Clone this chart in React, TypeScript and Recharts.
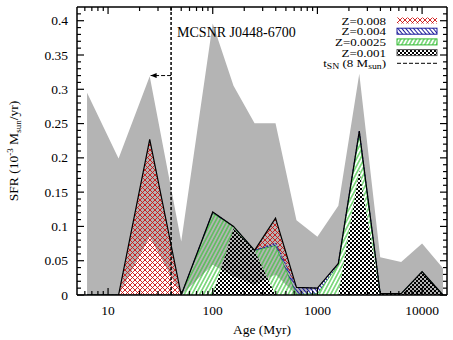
import React from 'react';
import { ComposedChart, Area, XAxis, YAxis, ReferenceLine, Legend } from 'recharts';

const FONT = '"Liberation Serif", "Times New Roman", serif';

// Age bins (Myr)
const ages = [6.3, 12.6, 25, 50, 100, 158, 251, 398, 631, 1000, 1585, 2512, 3981, 6310, 10000, 15849];
// SFR per metallicity (10^-3 Msun/yr)
const sfrZ0008 = [0, 0, 0.227, 0, 0, 0, 0, 0.036, 0, 0, 0, 0, 0, 0, 0, 0];
const sfrZ0004 = [0, 0, 0, 0, 0.002, 0, 0, 0.004, 0.01, 0.008, 0.002, 0.005, 0, 0, 0, 0];
const sfrZ00025 = [0, 0, 0, 0, 0.119, 0.003, 0, 0.072, 0.001, 0.002, 0.044, 0.052, 0, 0, 0, 0];
const sfrZ0001 = [0, 0, 0, 0, 0, 0.097, 0.065, 0, 0, 0, 0, 0.182, 0.002, 0.002, 0.034, 0];
// Uncertainty band of total SFR
const errLow = [0, 0, 0.085, 0, 0.044, 0.027, 0.015, 0.03, 0, 0.01, 0.045, 0.235, 0, 0, 0, 0];
const errHigh = [0.295, 0.199, 0.319, 0.078, 0.396, 0.305, 0.2505, 0.2505, 0.109, 0.085, 0.13, 0.3225, 0.055, 0.048, 0.075, 0.039];

// Ticks
const xMajorTicks = [10, 100, 1000, 10000];
const xTicks = [6, 7, 8, 9, 10, 20, 30, 40, 50, 60, 70, 80, 90, 100, 200, 300, 400, 500, 600, 700, 800, 900, 1000, 2000, 3000, 4000, 5000, 6000, 7000, 8000, 9000, 10000];
const yMajorTicks = [0, 0.05, 0.1, 0.15, 0.2, 0.25, 0.3, 0.35, 0.4];
const yTicks = Array.from({ length: 42 }, (_, i) => i / 100);

const snrAge = 40;
const snrName = 'MCSNR J0448-6700';
const arrowY = 0.32;
const arrowTipAge = 25.5;

const legendItems = [
  { label: 'Z=0.008', fill: 'url(#patZ0008)', border: 'none' },
  { label: 'Z=0.004', fill: 'url(#patZ0004)', border: '#1c1c9c' },
  { label: 'Z=0.0025', fill: 'url(#patZ00025)', border: '#2fb82f' },
  { label: 'Z=0.001', fill: 'url(#patZ0001)', border: '#555' },
];

const data = ages.map((age, i) => ({
  age,
  z0008: sfrZ0008[i],
  z0004: sfrZ0004[i],
  z00025: sfrZ00025[i],
  z0001: sfrZ0001[i],
  band: [errLow[i], errHigh[i]],
}));

const isMajorY = (v: number) => yMajorTicks.some((m) => Math.abs(m - v) < 1e-6);

const YTickLeft = (props: any) => {
  const { x, y, payload } = props;
  const major = isMajorY(payload.value);
  return (
    <g>
      <line x1={x} x2={x + (major ? 7 : 4)} y1={y} y2={y} stroke="#000" strokeWidth={1.2} />
      {major && (
        <text x={x - 9} y={y + 4.5} textAnchor="end" fontFamily={FONT} fontSize={13.5} fill="#000">
          {String(payload.value)}
        </text>
      )}
    </g>
  );
};

const YTickRight = (props: any) => {
  const { x, y, payload } = props;
  const major = isMajorY(payload.value);
  return <line x1={x} x2={x - (major ? 7 : 4)} y1={y} y2={y} stroke="#000" strokeWidth={1.2} />;
};

const XTickBottom = (props: any) => {
  const { x, y, payload } = props;
  const major = xMajorTicks.includes(payload.value);
  return (
    <g>
      <line x1={x} x2={x} y1={y} y2={y - (major ? 7 : 4)} stroke="#000" strokeWidth={1.2} />
      {major && (
        <text x={x} y={y + 19.5} textAnchor="middle" fontFamily={FONT} fontSize={13.5} fill="#000">
          {String(payload.value)}
        </text>
      )}
    </g>
  );
};

const XTickTop = (props: any) => {
  const { x, y, payload } = props;
  const major = xMajorTicks.includes(payload.value);
  return <line x1={x} x2={x} y1={y} y2={y + (major ? 7 : 4)} stroke="#000" strokeWidth={1.2} />;
};

const renderYLabel = (props: any) => {
  const vb = props.viewBox || { x: 17, y: 6, width: 60, height: 289 };
  const x = vb.x + 0.5;
  const cy = vb.y + vb.height / 2;
  return (
    <text transform={`rotate(-90, ${x}, ${cy})`} x={x} y={cy} textAnchor="middle" fontFamily={FONT} fontSize={13.5} fill="#000">
      SFR (10<tspan dy={-5} fontSize={9}>-3</tspan>
      <tspan dy={5}> M</tspan>
      <tspan dy={3} fontSize={9}>sun</tspan>
      <tspan dy={-3}>/yr)</tspan>
    </text>
  );
};

const renderXLabel = (props: any) => {
  const vb = props.viewBox || { x: 77, y: 295, width: 370, height: 45 };
  return (
    <text x={vb.x + vb.width / 2} y={vb.y + 39} textAnchor="middle" fontFamily={FONT} fontSize={13.5} fill="#000">
      Age (Myr)
    </text>
  );
};

const renderSnrLabel = (props: any) => {
  const vb = props.viewBox || { x: 170, y: 7 };
  return (
    <text x={vb.x + 6} y={vb.y + 30} fontFamily={FONT} fontSize={14} fill="#000">
      {snrName}
    </text>
  );
};

const ArrowShape = (p: any) => (
  <line x1={p.x1} y1={p.y1} x2={p.x2} y2={p.y2} stroke="#000" strokeWidth={1} strokeDasharray="4 2" markerEnd="url(#arrowHead)" />
);

const renderLegend = () => {
  const textRight = 386;
  const swX = 397;
  const swW = 40;
  const swH = 6;
  const base0 = 24.5;
  const step = 10.7;
  const fs = 10;
  const sx = 1.3;
  return (
    <svg width={453} height={80} style={{ display: 'block', overflow: 'visible' }}>
      {legendItems.map((it, i) => {
        const b = base0 + i * step;
        return (
          <g key={it.label}>
            <text transform={`translate(${textRight},${b}) scale(${sx},1)`} x={0} y={0} textAnchor="end" fontFamily={FONT} fontSize={fs} fill="#000">
              {it.label}
            </text>
            <rect x={swX} y={b - 7} width={swW} height={swH} fill={it.fill} stroke={it.border} strokeWidth={1} />
          </g>
        );
      })}
      <text transform={`translate(${textRight},${base0 + 4 * step}) scale(${sx},1)`} x={0} y={0} textAnchor="end" fontFamily={FONT} fontSize={fs} fill="#000">
        t<tspan dy={2} fontSize={7.5}>SN</tspan>
        <tspan dy={-2}> (8 M</tspan>
        <tspan dy={2} fontSize={7.5}>sun</tspan>
        <tspan dy={-2}>)</tspan>
      </text>
      <line x1={swX} x2={swX + swW} y1={base0 + 4 * step - 4} y2={base0 + 4 * step - 4} stroke="#000" strokeWidth={1} strokeDasharray="4 2" />
    </svg>
  );
};

export default function App() {
  return (
    <div style={{ position: 'absolute', left: 0, top: 0, width: 453, height: 340, background: '#fff' }}>
      <ComposedChart width={453} height={340} data={data} margin={{ top: 6, right: 5, bottom: 0, left: 17 }}>
        <defs>
          <pattern id="patZ0008" patternUnits="userSpaceOnUse" width={5} height={5}>
            <path d="M0,0 L5,5 M5,0 L0,5" stroke="#cc1111" strokeWidth={0.9} fill="none" />
          </pattern>
          <pattern id="patZ0004" patternUnits="userSpaceOnUse" width={3} height={6} patternTransform="rotate(-40)">
            <line x1={1.5} y1={0} x2={1.5} y2={6} stroke="#1c1c9c" strokeWidth={1} />
          </pattern>
          <pattern id="patZ00025" patternUnits="userSpaceOnUse" width={3.4} height={6} patternTransform="rotate(28)">
            <line x1={1.7} y1={0} x2={1.7} y2={6} stroke="#36c236" strokeWidth={1.1} />
          </pattern>
          <pattern id="patZ0001" patternUnits="userSpaceOnUse" width={4} height={4}>
            <rect x={0} y={0} width={2} height={2} fill="#000" />
            <rect x={2} y={2} width={2} height={2} fill="#000" />
          </pattern>
          <marker id="arrowHead" markerUnits="userSpaceOnUse" markerWidth={7} markerHeight={5} refX={6} refY={2.5} orient="auto">
            <path d="M0,0 L6,2.5 L0,5 z" fill="#000" />
          </marker>
        </defs>
        <XAxis
          dataKey="age"
          type="number"
          scale="log"
          domain={[5.05, 17300]}
          allowDataOverflow
          ticks={xTicks}
          interval={0}
          tick={XTickBottom}
          tickLine={false}
          tickSize={0}
          tickMargin={0}
          height={45}
          axisLine={{ stroke: '#000', strokeWidth: 1.5 }}
          label={renderXLabel}
        />
        <XAxis
          xAxisId="top"
          orientation="top"
          dataKey="age"
          type="number"
          scale="log"
          domain={[5.05, 17300]}
          allowDataOverflow
          ticks={xTicks}
          interval={0}
          tick={XTickTop}
          tickLine={false}
          tickSize={0}
          tickMargin={0}
          height={1}
          axisLine={{ stroke: '#000', strokeWidth: 1.5 }}
        />
        <YAxis
          type="number"
          domain={[0, 0.42]}
          allowDataOverflow
          ticks={yTicks}
          interval={0}
          tick={YTickLeft}
          tickLine={false}
          tickSize={0}
          tickMargin={0}
          width={60}
          axisLine={{ stroke: '#000', strokeWidth: 1.5 }}
          label={renderYLabel}
        />
        <YAxis
          yAxisId="right"
          orientation="right"
          type="number"
          domain={[0, 0.42]}
          allowDataOverflow
          ticks={yTicks}
          interval={0}
          tick={YTickRight}
          tickLine={false}
          tickSize={0}
          tickMargin={0}
          width={1}
          axisLine={{ stroke: '#000', strokeWidth: 1.5 }}
        />
        <Area dataKey="band" type="linear" fill="#b4b4b4" fillOpacity={1} stroke="none" isAnimationActive={false} legendType="none" />
        <Area dataKey="z0001" name="Z=0.001" stackId="s" type="linear" fill="url(#patZ0001)" fillOpacity={1} stroke="none" isAnimationActive={false} />
        <Area dataKey="z00025" name="Z=0.0025" stackId="s" type="linear" fill="url(#patZ00025)" fillOpacity={1} stroke="#2fb82f" strokeWidth={0.8} isAnimationActive={false} />
        <Area dataKey="z0004" name="Z=0.004" stackId="s" type="linear" fill="url(#patZ0004)" fillOpacity={1} stroke="#1c1c9c" strokeWidth={1} strokeDasharray="2 1.5" isAnimationActive={false} />
        <Area dataKey="z0008" name="Z=0.008" stackId="s" type="linear" fill="url(#patZ0008)" fillOpacity={1} stroke="#000" strokeWidth={1.2} isAnimationActive={false} />
        <ReferenceLine x={snrAge} stroke="#000" strokeWidth={1.5} strokeDasharray="3 2" label={renderSnrLabel} />
        <ReferenceLine segment={[{ x: snrAge, y: arrowY }, { x: arrowTipAge, y: arrowY }]} shape={ArrowShape} />
        <Legend
          layout="vertical"
          align="center"
          verticalAlign="middle"
          content={renderLegend}
          wrapperStyle={{ position: 'absolute', left: 0, top: 0, width: 453, height: 80, pointerEvents: 'none' }}
        />
      </ComposedChart>
    </div>
  );
}
